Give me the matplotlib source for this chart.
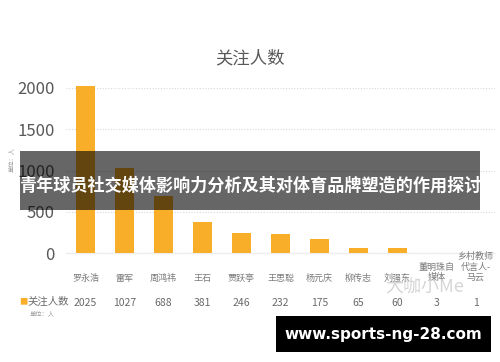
import matplotlib
matplotlib.use("Agg")
import matplotlib.pyplot as plt
from matplotlib.patches import Rectangle
import matplotlib.transforms as mtransforms

plt.rcParams['font.family'] = ['Noto Sans CJK SC', 'DejaVu Sans']

# data
names = ['罗永浩', '雷军', '周鸿祎', '王石', '贾跃亭', '王思聪', '杨元庆',
         '柳传志', '刘强东', '董明珠自\n媒体', '乡村教师\n代言人-\n马云']
fans = [2025, 1027, 688, 381, 246, 232, 175, 65, 60, 3, 1]
fan_labels = ['2025', '1027', '688', '381', '246', '232', '175', '65', '60', '3', '1']
yticks = [0, 500, 1000, 1500, 2000]

W, H = 500, 362
bar_color = '#F9AE2A'
grey = '#595959'

fig = plt.figure(figsize=(W / 100, H / 100), dpi=100)
fig.patch.set_facecolor('white')

def fy(px):
    return 1 - px / H

def fx(px):
    return px / W

ax = fig.add_axes([fx(66), fy(253), fx(495) - fx(66), fy(88) - fy(253)])
x = list(range(len(names)))
ax.bar(x, fans, width=0.5, color=bar_color, zorder=3, clip_on=False)
ax.set_xlim(-0.5, len(names) - 0.5)
ax.set_ylim(0, 2000)
ax.set_yticks(yticks)
ax.set_yticklabels([str(t) for t in yticks], fontsize=12, color=grey)
ax.tick_params(axis='y', length=0, pad=8)
ax.set_xticks([])
for s in ['top', 'right', 'left']:
    ax.spines[s].set_visible(False)
ax.spines['bottom'].set_color('#eeeeee')
ax.spines['bottom'].set_linewidth(1.0)
ax.grid(axis='y', color='#d9d9d9', linestyle=(0, (1, 1.5)), linewidth=0.8, zorder=0)

fig.text(0.5, fy(58), '关注人数', ha='center', va='center', fontsize=12.5, color=grey)

# category labels and the data table row
trans = mtransforms.blended_transform_factory(ax.transData, fig.transFigure)
for i, (n, v) in enumerate(zip(names, fan_labels)):
    nlines = n.count('\n')
    ytop = 278 - 5.5 * nlines
    ax.text(i, fy(ytop), n, transform=trans, ha='center', va='center',
            fontsize=6.5, color='#7a7a7a', linespacing=1.15, clip_on=False)
    ax.text(i, fy(303), v, transform=trans, ha='center', va='center',
            fontsize=7.5, color='#6a6a6a', clip_on=False)

fig.text(fx(19), fy(302), '■', ha='left', va='center', fontsize=6, color=bar_color)
fig.text(fx(27), fy(302), '关注人数', ha='left', va='center', fontsize=7.5, color='#6a6a6a')
fig.text(fx(30), fy(313), '单位：人', ha='left', va='center', fontsize=4.5, color='#999999')
fig.text(fx(11), fy(160), '单位：人', ha='center', va='center', fontsize=4.5,
         color='#999999', rotation=90)

# watermark
fig.text(fx(385), fy(287), '大咖小Me', ha='left', va='center', fontsize=13,
         color='#cccccc', alpha=0.8)

# overlay banner
fig.patches.append(Rectangle((fx(20), fy(210)), fx(480) - fx(20), fy(151) - fy(210),
                             transform=fig.transFigure, facecolor='black', alpha=0.6,
                             edgecolor='none', zorder=5))
fig.text(fx(250), fy(186), '青年球员社交媒体影响力分析及其对体育品牌塑造的作用探讨',
         ha='center', va='center', fontsize=12.3, fontweight='bold', color='white', zorder=6)

# site box
fig.patches.append(Rectangle((fx(276), fy(352)), fx(491) - fx(276), fy(316) - fy(352),
                             transform=fig.transFigure, facecolor='black',
                             edgecolor='none', zorder=5))
fig.text(fx(383.5), fy(334), 'www.sports-ng-28.com', ha='center', va='center',
         fontsize=11, fontweight='bold', color='white', family='DejaVu Sans', zorder=6)

fig.savefig('out.png', dpi=100)
